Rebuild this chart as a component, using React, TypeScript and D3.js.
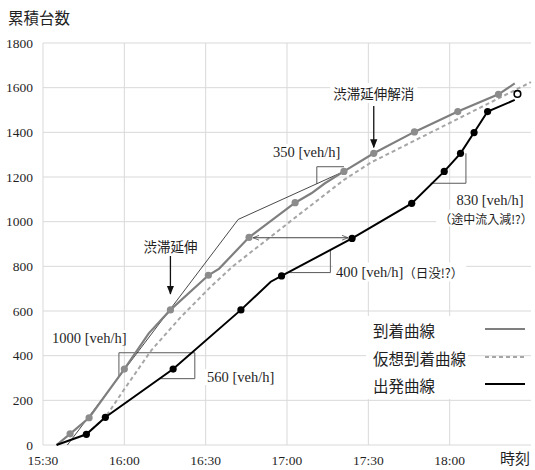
import React, { useRef, useEffect } from 'react';
import * as d3 from 'd3';

// axis ticks
const xTicks = ['15:30', '16:00', '16:30', '17:00', '17:30', '18:00'];
const yTicks = [0, 200, 400, 600, 800, 1000, 1200, 1400, 1600, 1800];

// 到着曲線 (measured arrivals); marked = has a dot
const arrivalTimes = ['15:35', '15:40', '15:47', '16:00', '16:09', '16:17', '16:31', '16:35', '16:46', '17:03', '17:09', '17:14', '17:21', '17:32', '17:47', '18:03', '18:18', '18:24'];
const arrivalCounts = [0, 50, 122, 340, 500, 605, 760, 790, 930, 1085, 1127, 1172, 1225, 1306, 1402, 1493, 1570, 1619];
const arrivalMarked = [0, 1, 1, 1, 0, 1, 1, 0, 1, 1, 0, 0, 1, 1, 1, 1, 1, 0];

// 出発曲線
const departureTimes = ['15:35', '15:46', '15:53', '16:18', '16:43', '16:54', '16:58', '17:24', '17:46', '17:58', '18:04', '18:09', '18:14', '18:24'];
const departureCounts = [0, 48, 124, 340, 605, 731, 757, 925, 1082, 1225, 1306, 1399, 1493, 1545];
const departureMarked = [0, 1, 1, 1, 1, 0, 1, 1, 1, 1, 1, 1, 1, 0];

// 仮想到着曲線
const virtualTimes = ['15:46', '15:53', '16:00', '16:10', '16:21', '16:32', '16:40', '17:05', '17:21', '17:31', '18:30'];
const virtualCounts = [48, 124, 250, 425, 575, 710, 800, 1037, 1187, 1265, 1625];
const virtualEnd = { time: '18:25', count: 1572 };

// thin tangent lines (1000 / 350 veh/h)
const tangentTimes = ['15:39', '16:42', '17:21'];
const tangentCounts = [0, 1010, 1225];

// slope triangles
const slopeBoxes: [string, number][][] = [
  [['15:58', 304], ['15:58', 413], ['16:26', 413], ['16:26', 297], ['16:13', 297]],
  [['17:11', 1170], ['17:11', 1246], ['17:21', 1246]],
  [['17:00', 772], ['17:16', 772], ['17:16', 870]],
  [['17:53', 1172], ['18:06', 1172], ['18:06', 1306]],
];
// travel time arrow
const delayArrow = { from: '16:46', to: '17:24', count: 928 };

const parse = d3.timeParse('%H:%M');
const x = d3.scaleTime().domain([parse('15:30')!, parse('18:30')!]).range([43, 531]);
const y = d3.scaleLinear().domain([0, 1800]).range([445, 43]);

const serif = "'Liberation Serif', 'DejaVu Serif', serif";
const jp = "'Noto Sans CJK JP', 'Noto Sans', sans-serif";
const ink = '#1f1f1f';

type Pt = { t: Date; v: number; m: boolean };
const zip = (ts: string[], vs: number[], ms?: number[]): Pt[] =>
  ts.map((t, i) => ({ t: parse(t)!, v: vs[i], m: ms ? !!ms[i] : false }));

const arrival = zip(arrivalTimes, arrivalCounts, arrivalMarked);
const departure = zip(departureTimes, departureCounts, departureMarked);
const virtual = zip(virtualTimes, virtualCounts);
const tangent = zip(tangentTimes, tangentCounts);

const line = d3
  .line<Pt>()
  .x((d) => x(d.t))
  .y((d) => y(d.v));

const App = () => {
  const svgRef = useRef<SVGSVGElement>(null);

  useEffect(() => {
    const svg = d3.select(svgRef.current);
    svg.selectAll('rect.textbg').remove();
    svg.selectAll<SVGTextElement, unknown>('text.bg').each(function () {
      const b = this.getBBox();
      const node = this;
      d3.select(this.parentNode as Element)
        .insert('rect', () => node)
        .attr('class', 'textbg')
        .attr('x', b.x - 3)
        .attr('y', b.y)
        .attr('width', b.width + 6)
        .attr('height', b.height)
        .attr('fill', '#fff');
    });
  }, []);

  const arr = (t: string) => arrival.find((d) => d.t.getTime() === parse(t)!.getTime())!;
  const jam = arr('16:17');
  const jamEnd = arr('17:32');

  return (
    <svg
      ref={svgRef}
      width={535}
      height={470}
      style={{ position: 'absolute', left: 0, top: 0, background: '#fff' }}
    >
      <defs>
        <marker id="ah" viewBox="0 0 10 10" refX="9" refY="5" markerWidth="7" markerHeight="7" orient="auto-start-reverse">
          <path d="M0,1 L10,5 L0,9 Z" fill="#111" />
        </marker>
        <marker id="ah2" viewBox="0 0 10 10" refX="10" refY="5" markerWidth="6" markerHeight="6" orient="auto-start-reverse">
          <path d="M0,1 L10,5 L0,9" fill="none" stroke="#444" strokeWidth="1.3" />
        </marker>
      </defs>

      {/* grid */}
      <g stroke="#d9d9d9" strokeWidth={1}>
        {yTicks.map((v) => (
          <line key={v} x1={43} x2={531} y1={y(v)} y2={y(v)} />
        ))}
        {xTicks.map((t) => (
          <line key={t} x1={x(parse(t)!)} x2={x(parse(t)!)} y1={43} y2={445} />
        ))}
      </g>

      {/* axis labels */}
      <g fontFamily={serif} fontSize={13.5} fill={ink}>
        {yTicks.map((v) => (
          <text key={v} x={33} y={y(v)} textAnchor="end" dominantBaseline="central">
            {v}
          </text>
        ))}
        {xTicks.map((t) => (
          <text key={t} x={x(parse(t)!)} y={460} textAnchor="middle" dominantBaseline="central">
            {t}
          </text>
        ))}
      </g>
      <text x={8} y={17} fontFamily={jp} fontSize={15.5} fill={ink} dominantBaseline="central">
        累積台数
      </text>
      <text x={515} y={457} fontFamily={jp} fontSize={15} fill={ink} textAnchor="middle" dominantBaseline="central">
        時刻
      </text>

      {/* annotation texts */}
      <g fill={ink}>
        <text className="bg" x={52} y={338} fontFamily={serif} fontSize={14.5} dominantBaseline="central">
          1000 [veh/h]
        </text>
        <text className="bg" x={207} y={377} fontFamily={serif} fontSize={14.5} dominantBaseline="central">
          560 [veh/h]
        </text>
        <text className="bg" x={273} y={152} fontFamily={serif} fontSize={14.5} dominantBaseline="central">
          350 [veh/h]
        </text>
        <text className="bg" x={336} y={272} fontSize={14.5} dominantBaseline="central">
          <tspan fontFamily={serif}>400 [veh/h]</tspan>
          <tspan fontFamily={jp} fontSize={12.5}>（日没!?）</tspan>
        </text>
        <text className="bg" x={490} y={200} fontFamily={serif} fontSize={14.5} textAnchor="middle" dominantBaseline="central">
          830 [veh/h]
        </text>
        <text className="bg" x={486} y={218} fontFamily={jp} fontSize={12} textAnchor="middle" dominantBaseline="central">
          （途中流入減!?）
        </text>
        <text className="bg" x={x(jam.t)} y={246} fontFamily={jp} fontSize={13.5} textAnchor="middle" dominantBaseline="central">
          渋滞延伸
        </text>
        <text className="bg" x={x(jamEnd.t)} y={93} fontFamily={jp} fontSize={13.5} textAnchor="middle" dominantBaseline="central">
          渋滞延伸解消
        </text>
      </g>

      {/* legend background */}
      <rect x={366} y={316} width={102} height={83} fill="#fff" />

      {/* slope triangles */}
      <g fill="none" stroke="#5a5a5a" strokeWidth={1}>
        {slopeBoxes.map((b, i) => (
          <polyline key={i} points={b.map(([t, v]) => `${x(parse(t)!)},${y(v)}`).join(' ')} />
        ))}
      </g>

      {/* data lines */}
      <path d={line(tangent)!} fill="none" stroke="#1a1a1a" strokeWidth={0.8} />
      <path d={line(virtual)!} fill="none" stroke="#a6a6a6" strokeWidth={2} strokeDasharray="4 3" />
      <path d={line(arrival)!} fill="none" stroke="#7f7f7f" strokeWidth={2.2} />
      <path d={line(departure)!} fill="none" stroke="#000" strokeWidth={2} />

      <line
        x1={x(parse(delayArrow.from)!) + 4}
        x2={x(parse(delayArrow.to)!) - 4}
        y1={y(delayArrow.count)}
        y2={y(delayArrow.count)}
        stroke="#444"
        strokeWidth={1}
        markerStart="url(#ah2)"
        markerEnd="url(#ah2)"
      />

      {arrival
        .filter((d) => d.m)
        .map((d, i) => (
          <circle key={'a' + i} cx={x(d.t)} cy={y(d.v)} r={3.6} fill="#8c8c8c" />
        ))}
      {departure
        .filter((d) => d.m)
        .map((d, i) => (
          <circle key={'d' + i} cx={x(d.t)} cy={y(d.v)} r={3.6} fill="#000" />
        ))}
      <circle cx={x(parse(virtualEnd.time)!)} cy={y(virtualEnd.count)} r={3.3} fill="#fff" stroke="#000" strokeWidth={1.6} />

      {/* event arrows */}
      <line x1={x(jam.t)} x2={x(jam.t)} y1={256} y2={y(jam.v) - 16} stroke="#111" strokeWidth={1.3} markerEnd="url(#ah)" />
      <line x1={x(jamEnd.t)} x2={x(jamEnd.t)} y1={106} y2={y(jamEnd.v) - 6} stroke="#111" strokeWidth={1.3} markerEnd="url(#ah)" />

      {/* legend */}
      <g fontFamily={jp} fontSize={15.5} fill={ink}>
        <text x={373} y={330} dominantBaseline="central">到着曲線</text>
        <text x={373} y={357.5} dominantBaseline="central">仮想到着曲線</text>
        <text x={373} y={385} dominantBaseline="central">出発曲線</text>
      </g>
      <line x1={485} x2={525} y1={329} y2={329} stroke="#7f7f7f" strokeWidth={2.2} />
      <line x1={485} x2={525} y1={357} y2={357} stroke="#a6a6a6" strokeWidth={2} strokeDasharray="4 3" />
      <line x1={485} x2={525} y1={384} y2={384} stroke="#000" strokeWidth={2} />
    </svg>
  );
};

export default App;
